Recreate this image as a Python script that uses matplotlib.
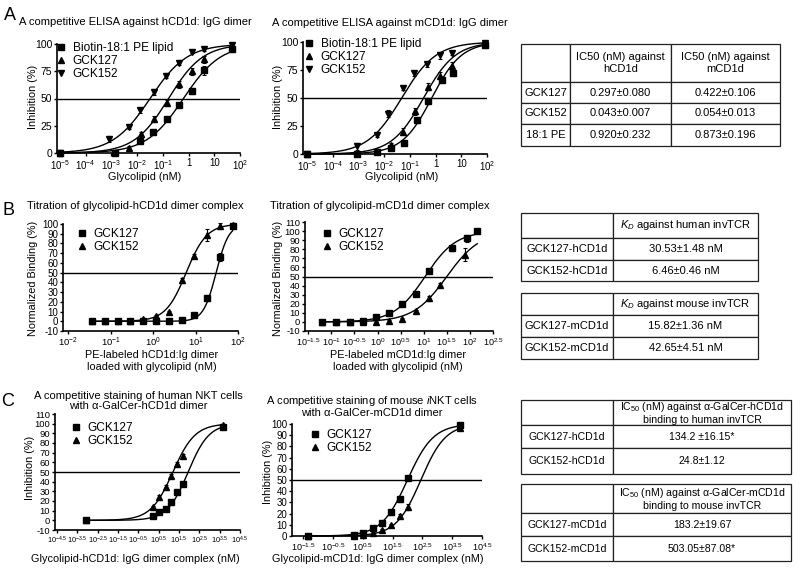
import numpy as np
import matplotlib
matplotlib.use("Agg")
import matplotlib.pyplot as plt
from matplotlib.ticker import NullLocator

plt.rcParams['font.family'] = ['Liberation Sans', 'DejaVu Sans']
plt.rcParams['mathtext.fontset'] = 'custom'
plt.rcParams['mathtext.rm'] = 'Liberation Sans'
plt.rcParams['mathtext.it'] = 'Liberation Sans:italic'
plt.rcParams['mathtext.default'] = 'regular'

W, H = 800, 573

# ---------------- data (x values are log10 of concentration in nM) ----------------
# A left: competitive ELISA against hCD1d:IgG dimer
a1_pe_x = [-5, -2.86, -1.88, -1.37, -0.85, -0.38, 0.15, 0.60, 1.70]
a1_pe_y = [0, 0, 11, 19, 31, 44, 57, 76, 95]
a1_pe_err = [0, 1, 2, 2, 2, 2, 3, 4, 2]
a1_127_x = [-5, -2.32, -1.85, -1.35, -0.85, -0.38, 0.15, 0.60, 1.70]
a1_127_y = [0, 5, 17, 31, 46, 63, 75, 86, 97]
a1_127_err = [0, 1, 2, 3, 3, 3, 3, 3, 2]
a1_152_x = [-5, -3.08, -2.32, -1.89, -1.33, -0.89, -0.38, 0.12, 0.60, 1.68]
a1_152_y = [0, 13, 24, 39, 56, 71, 83, 93, 95, 99]
a1_152_err = [0, 3, 2, 2, 3, 2, 2, 1, 1, 1]
a1_ec50 = [-0.20, -0.78, -1.50]
a1_hill = [0.60, 0.65, 0.60]

# A middle: competitive ELISA against mCD1d:IgG dimer
a2_pe_x = [-5, -3.07, -2.29, -1.75, -1.23, -0.73, -0.28, 0.24, 0.69, 1.92]
a2_pe_y = [0, 0, 2, 5, 10, 30, 47, 66, 72, 97]
a2_pe_err = [0, 1, 1, 1, 2, 2, 2, 3, 2, 2]
a2_127_x = [-5, -3.07, -2.29, -1.75, -1.25, -0.80, -0.30, 0.17, 0.62, 1.92]
a2_127_y = [0, 1, 3, 8, 20, 38, 60, 70, 79, 99]
a2_127_err = [0, 1, 1, 2, 3, 3, 3, 3, 3, 1]
a2_152_x = [-5, -3.07, -2.29, -1.84, -1.25, -0.84, -0.34, 0.17, 0.62, 1.92]
a2_152_y = [0, 7, 17, 36, 59, 72, 80, 88, 90, 99]
a2_152_err = [0, 3, 2, 3, 2, 2, 2, 3, 2, 1]
a2_ec50 = [-0.15, -0.47, -1.32]
a2_hill = [0.75, 0.70, 0.65]

a_labels = ['Biotin-18:1 PE lipid', 'GCK127', 'GCK152']
a_xticks = [-5, -4, -3, -2, -1, 0, 1, 2]
a_xticklabels = ['$10^{-5}$', '$10^{-4}$', '$10^{-3}$', '$10^{-2}$', '$10^{-1}$', '1', '10', '$10^{2}$']

# B left: titration of glycolipid-hCD1d dimer complex
b1_x = [-1.437, -1.136, -0.834, -0.533, -0.232, 0.069, 0.370, 0.671, 0.972, 1.273, 1.574, 1.875]
b1_127_y = [0, 0, 0, 0, 0, 0, 0, 1, 6, 24, 66, 98]
b1_127_err = [0, 0, 0, 0, 0, 0, 0, 1, 1, 3, 4, 2]
b1_152_y = [0, 0, 0, 0, 2, 5, 10, 42, 67, 89, 98, 99]
b1_152_err = [0, 0, 0, 0, 1, 1, 1, 3, 2, 6, 3, 1]
b1_ec50 = [1.485, 0.78]
b1_hill = [2.9, 1.8]

# B middle: titration of glycolipid-mCD1d dimer complex
b2_127_x = [-1.21, -0.89, -0.60, -0.32, -0.03, 0.25, 0.54, 0.83, 1.11, 1.61, 1.93, 2.16]
b2_127_y = [0, 0, 0, 1, 5, 10, 20, 31, 56, 81, 92, 100]
b2_127_err = [0, 0, 0, 2, 1, 1, 1, 1, 2, 3, 4, 2]
b2_152_x = [-1.21, -0.89, -0.60, -0.32, -0.03, 0.25, 0.54, 0.83, 1.11, 1.36, 1.89]
b2_152_y = [0, 0, 0, 0, 0, 1, 3, 12, 26, 41, 74]
b2_152_err = [0, 0, 0, 0, 0, 1, 1, 1, 3, 2, 7]
b2_ec50 = [1.03, 1.50]
b2_hill = [1.30, 1.20]

# C left: competitive staining of human NKT cells
c1_x = [-3.07, 0.24, 0.53, 0.85, 1.11, 1.42, 1.71, 3.65]
c1_127_y = [0, 4, 9, 12, 19, 29, 38, 97]
c1_127_err = [0, 1, 1, 1, 2, 2, 2, 2]
c1_152_y = [0, 14, 24, 35, 46, 58, 67, 99]
c1_152_err = [0, 1, 2, 2, 2, 2, 2, 1]
c1_ec50 = [1.95, 1.20]
c1_hill = [0.85, 0.80]

# C middle: competitive staining of mouse iNKT cells
c2_x = [-1.32, 0.22, 0.52, 0.84, 1.14, 1.44, 1.75, 2.03, 3.76]
c2_127_y = [0, 1, 3, 7, 12, 21, 33, 52, 99]
c2_127_err = [0, 1, 1, 1, 1, 2, 3, 2, 1]
c2_152_y = [0, 0, 1, 3, 5, 10, 18, 26, 96]
c2_152_err = [0, 0, 1, 1, 1, 1, 2, 3, 1]
c2_ec50 = [2.00, 2.45]
c2_hill = [1.00, 1.05]

# tables
tab_a = [['', 'IC50 (nM) against\nhCD1d', 'IC50 (nM) against\nmCD1d'],
         ['GCK127', '0.297\u00b10.080', '0.422\u00b10.106'],
         ['GCK152', '0.043\u00b10.007', '0.054\u00b10.013'],
         ['18:1 PE', '0.920\u00b10.232', '0.873\u00b10.196']]
tab_b1 = [['', r'$\mathit{K_D}$ against human invTCR'],
          ['GCK127-hCD1d', '30.53\u00b11.48 nM'],
          ['GCK152-hCD1d', '6.46\u00b10.46 nM']]
tab_b2 = [['', r'$\mathit{K_D}$ against mouse invTCR'],
          ['GCK127-mCD1d', '15.82\u00b11.36 nM'],
          ['GCK152-mCD1d', '42.65\u00b14.51 nM']]
tab_c1 = [['', 'IC$_{50}$ (nM) against \u03b1-GalCer-hCD1d\nbinding to human invTCR'],
          ['GCK127-hCD1d', '134.2 \u00b116.15*'],
          ['GCK152-hCD1d', '24.8\u00b11.12']]
tab_c2 = [['', 'IC$_{50}$ (nM) against \u03b1-GalCer-mCD1d\nbinding to mouse invTCR'],
          ['GCK127-mCD1d', '183.2\u00b119.67'],
          ['GCK152-mCD1d', '503.05\u00b187.08*']]

fig = plt.figure(figsize=(8, 5.73), dpi=100)


def px_rect(x0, y0, x1, y1):
    return [x0 / W, 1 - y1 / H, (x1 - x0) / W, (y1 - y0) / H]


def ftext(x, y, s, **kw):
    kw.setdefault('ha', 'center')
    kw.setdefault('va', 'center')
    kw.setdefault('fontsize', 7.8)
    fig.text(x / W, 1 - y / H, s, **kw)


def new_axes(box, xlim, ylim, xt, xtl, yt, xfs=7, yfs=7.5):
    ax = fig.add_axes(px_rect(*box))
    ax.set_xscale('log')
    ax.set_xlim(10.0 ** xlim[0], 10.0 ** xlim[1])
    ax.set_ylim(*ylim)
    ax.set_xticks(10.0 ** np.asarray(xt, dtype=float))
    ax.set_xticklabels(xtl, fontsize=xfs)
    ax.xaxis.set_minor_locator(NullLocator())
    ax.set_yticks(yt)
    ax.set_yticklabels([str(v) for v in yt], fontsize=yfs)
    ax.spines['top'].set_visible(False)
    ax.spines['right'].set_visible(False)
    for s in ['left', 'bottom']:
        ax.spines[s].set_linewidth(1.2)
    ax.tick_params(direction='out', length=2.5, width=1, pad=1)
    ax.axhline(50, color='k', lw=1.0)
    return ax


def draw_series(ax, x, y, err, marker):
    xs = 10.0 ** np.asarray(x, dtype=float)
    ax.errorbar(xs, y, yerr=err, fmt='none', ecolor='k', elinewidth=0.8,
                capsize=1.5, capthick=0.8, clip_on=False)
    h, = ax.plot(xs, y, ls='none', marker=marker, ms=4.5, color='k', clip_on=False)
    return h


def draw_fit(ax, lo, hi, ec50, hill):
    t = np.linspace(lo, hi, 300)
    ax.plot(10.0 ** t, 100.0 / (1 + 10.0 ** ((ec50 - t) * hill)), color='k', lw=1.0,
            clip_on=False)


def legend(ax, handles, labels, x, y):
    ax.legend(handles, labels, loc='upper left', bbox_to_anchor=(x / W, 1 - y / H),
              bbox_transform=fig.transFigure, frameon=False, fontsize=8.6,
              handlelength=0.7, handletextpad=0.6, labelspacing=0.1,
              borderpad=0, borderaxespad=0)


def draw_table(box, rows, col_w, row_h, fs=8):
    ax = fig.add_axes(px_rect(*box))
    ax.axis('off')
    tb = ax.table(cellText=rows, cellLoc='center', bbox=[0, 0, 1, 1])
    tb.auto_set_font_size(False)
    for (r, c), cell in tb.get_celld().items():
        cell.set_width(col_w[c])
        cell.set_height(row_h[r])
        cell.set_linewidth(0.9)
        cell.set_edgecolor('#222222')
        cell.get_text().set_fontsize(fs)
    return tb


# ---------------- panel A ----------------
ax = new_axes((57, 44, 240, 153), (-5.12, 2.0), (0, 100), a_xticks, a_xticklabels,
              [0, 25, 50, 75, 100])
hs = [draw_series(ax, a1_pe_x, a1_pe_y, a1_pe_err, 's'),
      draw_series(ax, a1_127_x, a1_127_y, a1_127_err, '^'),
      draw_series(ax, a1_152_x, a1_152_y, a1_152_err, 'v')]
for xs, e, hl in zip([a1_pe_x, a1_127_x, a1_152_x], a1_ec50, a1_hill):
    draw_fit(ax, min(xs), max(xs), e, hl)
legend(ax, hs, a_labels, 57, 42)

ax = new_axes((303, 42, 487, 154), (-5.16, 2.0), (0, 100), a_xticks, a_xticklabels,
              [0, 25, 50, 75, 100])
hs = [draw_series(ax, a2_pe_x, a2_pe_y, a2_pe_err, 's'),
      draw_series(ax, a2_127_x, a2_127_y, a2_127_err, '^'),
      draw_series(ax, a2_152_x, a2_152_y, a2_152_err, 'v')]
for xs, e, hl in zip([a2_pe_x, a2_127_x, a2_152_x], a2_ec50, a2_hill):
    draw_fit(ax, min(xs), max(xs), e, hl)
legend(ax, hs, a_labels, 305, 38)

ftext(10, 16, 'A', fontsize=13)
ftext(135, 22, 'A competitive ELISA against hCD1d: IgG dimer', fontsize=8)
ftext(390, 23, 'A competitive ELISA against mCD1d: IgG dimer', fontsize=8)
ftext(145, 177, 'Glycolipid (nM)')
ftext(402, 177, 'Glycolipid (nM)')
ftext(33, 97, 'Inhibition (%)', rotation=90)
ftext(278, 97, 'Inhibition (%)', rotation=90)
draw_table((521, 44, 780, 146), tab_a, [49, 102, 109], [38, 21, 21, 22])

# ---------------- panel B ----------------
ax = new_axes((63, 224, 238, 331), (-2.12, 2.0), (-10, 100), [-2, -1, 0, 1, 2],
              ['$10^{-2}$', '$10^{-1}$', '$10^{0}$', '$10^{1}$', '$10^{2}$'],
              list(range(-10, 101, 10)), xfs=6.8, yfs=7)
hs = [draw_series(ax, b1_x, b1_127_y, b1_127_err, 's'),
      draw_series(ax, b1_x, b1_152_y, b1_152_err, '^')]
for e, hl in zip(b1_ec50, b1_hill):
    draw_fit(ax, min(b1_x), max(b1_x), e, hl)
legend(ax, hs, ['GCK127', 'GCK152'], 78, 228)

ax = new_axes((305, 222, 493, 331), (-1.57, 2.5), (-10, 110),
              [-1.5, -1, -0.5, 0, 0.5, 1, 1.5, 2, 2.5],
              ['$10^{-1.5}$', '$10^{-1}$', '$10^{-0.5}$', '$10^{0}$', '$10^{0.5}$',
               '$10^{1}$', '$10^{1.5}$', '$10^{2}$', '$10^{2.5}$'],
              list(range(-10, 111, 10)), xfs=6.5, yfs=6.8)
hs = [draw_series(ax, b2_127_x, b2_127_y, b2_127_err, 's'),
      draw_series(ax, b2_152_x, b2_152_y, b2_152_err, '^')]
lo = min(b2_127_x + b2_152_x)
hi = max(b2_127_x + b2_152_x)
for e, hl in zip(b2_ec50, b2_hill):
    draw_fit(ax, lo, hi, e, hl)
legend(ax, hs, ['GCK127', 'GCK152'], 323, 228)

ftext(8, 210, 'B', fontsize=13)
ftext(135, 206, 'Titration of glycolipid-hCD1d dimer complex', fontsize=8)
ftext(380, 206, 'Titration of glycolipid-mCD1d dimer complex', fontsize=8)
ftext(152, 361, 'PE-labeled hCD1d:Ig dimer\nloaded with glycolipid (nM)', linespacing=1.35)
ftext(398, 361, 'PE-labeled mCD1d:Ig dimer\nloaded with glycolipid (nM)', linespacing=1.35)
ftext(33, 278, 'Normalized Binding (%)', rotation=90)
ftext(278, 278, 'Normalized Binding (%)', rotation=90)
draw_table((521, 213, 758, 281), tab_b1, [92, 145], [25, 22, 21])
draw_table((521, 293, 758, 359), tab_b2, [92, 145], [22, 22, 22])

# ---------------- panel C ----------------
c1_ticks = [-4.5, -3.5, -2.5, -1.5, -0.5, 0.5, 1.5, 2.5, 3.5, 4.5]
ax = new_axes((55, 414, 240, 530), (-4.6, 4.5), (-10, 110), c1_ticks,
              ['$10^{%g}$' % t for t in c1_ticks], list(range(-10, 111, 10)),
              xfs=5.3, yfs=6.8)
hs = [draw_series(ax, c1_x, c1_127_y, c1_127_err, 's'),
      draw_series(ax, c1_x, c1_152_y, c1_152_err, '^')]
for e, hl in zip(c1_ec50, c1_hill):
    draw_fit(ax, min(c1_x), max(c1_x), e, hl)
legend(ax, hs, ['GCK127', 'GCK152'], 72, 422)

c2_ticks = [-1.5, -0.5, 0.5, 1.5, 2.5, 3.5, 4.5]
ax = new_axes((292, 424, 482, 536), (-1.87, 4.5), (0, 100), c2_ticks,
              ['$10^{%g}$' % t for t in c2_ticks], list(range(0, 101, 10)),
              xfs=6.5, yfs=7)
hs = [draw_series(ax, c2_x, c2_127_y, c2_127_err, 's'),
      draw_series(ax, c2_x, c2_152_y, c2_152_err, '^')]
for e, hl in zip(c2_ec50, c2_hill):
    draw_fit(ax, min(c2_x), max(c2_x), e, hl)
legend(ax, hs, ['GCK127', 'GCK152'], 311, 429)

ftext(8, 401, 'C', fontsize=13)
ftext(138, 401, 'A competitive staining of human NKT cells\nwith \u03b1-GalCer-hCD1d dimer',
      fontsize=8, linespacing=1.0)
ftext(372, 406, 'A competitive staining of mouse $\\mathit{i}$NKT cells\nwith \u03b1-GalCer-mCD1d dimer',
      fontsize=8, linespacing=1.05)
ftext(135, 559, 'Glycolipid-hCD1d: IgG dimer complex (nM)')
ftext(378, 559, 'Glycolipid-mCD1d: IgG dimer complex (nM)')
ftext(30, 468, 'Inhibition (%)', rotation=90)
ftext(268, 472, 'Inhibition (%)', rotation=90)
draw_table((521, 400, 791, 474), tab_c1, [92, 178], [25, 24, 26], fs=7.6)
draw_table((521, 484, 791, 561), tab_c2, [92, 178], [29, 23, 25], fs=7.6)

fig.savefig('out.png', dpi=100)
